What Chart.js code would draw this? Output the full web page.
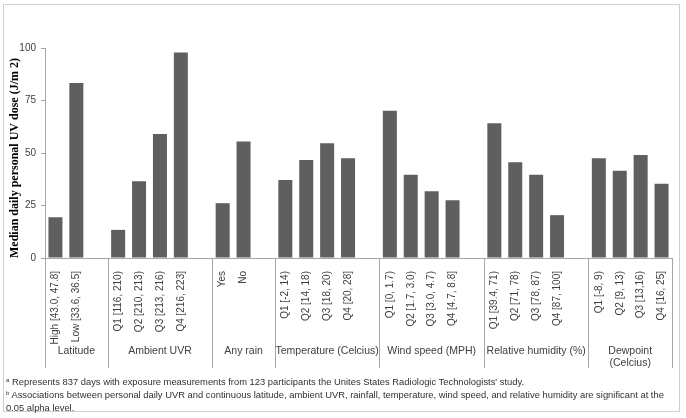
<!DOCTYPE html>
<html>
<head>
<meta charset="utf-8">
<script src="https://cdn.jsdelivr.net/npm/chart.js@4/dist/chart.umd.min.js"></script>
<style>
  body { margin: 0; background: #fff; }
  #wrap { position: relative; width: 686px; height: 418px; }
  #frame { position: absolute; left: 3px; top: 4px; width: 677px; height: 408px; border: 1px solid #cfcfcf; box-sizing: border-box; }
  canvas { position: absolute; left: 0; top: 0; }
  #notes { position: absolute; left: 6px; top: 375px; font: 9.4px "Liberation Sans", Arial, sans-serif; color: #303030; line-height: 13px; white-space: nowrap; }
  #notes sup { font-size: 6px; vertical-align: 3px; line-height: 0; }
</style>
</head>
<body>
<div id="wrap">
  <div id="frame"></div>
  <canvas id="chart" width="686" height="418"></canvas>
  <div id="notes">
    <sup>a</sup> Represents 837 days with exposure measurements from 123 participants the Unites States Radiologic Technologists' study.<br>
    <sup>b</sup> Associations between personal daily UVR and continuous latitude, ambient UVR, rainfall, temperature, wind speed, and relative humidity are significant at the<br>
    0.05 alpha level.
  </div>
</div>
<script>
// groups along the x axis (label drawn under each block)
const groupNames = ["Latitude", "Ambient UVR", "Any rain", "Temperature (Celcius)",
  "Wind speed (MPH)", "Relative humidity (%)", ["Dewpoint", "(Celcius)"]];

const latitudeLabels = ["High [43.0, 47.8]", "Low [33.6, 36.5]"];
const latitudeValues = [19.4, 83.3];

const ambientLabels = ["Q1 [116, 210)", "Q2 [210, 213)", "Q3 [213, 216)", "Q4 [216, 223]"];
const ambientValues = [13.4, 36.6, 59.0, 97.9];

const rainLabels = ["Yes", "No"];
const rainValues = [26.1, 55.5];

const temperatureLabels = ["Q1 [-2, 14)", "Q2 [14, 18)", "Q3 [18, 20)", "Q4 [20, 28]"];
const temperatureValues = [37.2, 46.7, 54.7, 47.5];

const windLabels = ["Q1 [0, 1.7)", "Q2 [1.7, 3.0)", "Q3 [3.0, 4.7)", "Q4 [4.7, 8.8]"];
const windValues = [70.1, 39.7, 31.8, 27.5];

const humidityLabels = ["Q1 [39.4, 71)", "Q2 [71, 78)", "Q3 [78, 87)", "Q4 [87, 100]"];
const humidityValues = [64.2, 45.6, 39.7, 20.4];

const dewpointLabels = ["Q1 [-8, 9)", "Q2 [9, 13)", "Q3 [13,16)", "Q4 [16, 25]"];
const dewpointValues = [47.5, 41.5, 49.0, 35.4];

const yTicks = [0, 25, 50, 75, 100];
const yTitle = "Median daily personal UV dose (J/m 2)";

// flatten into one category axis, with an empty slot after each group (Excel style)
const blocks = [
  [latitudeLabels, latitudeValues], [ambientLabels, ambientValues], [rainLabels, rainValues],
  [temperatureLabels, temperatureValues], [windLabels, windValues],
  [humidityLabels, humidityValues], [dewpointLabels, dewpointValues]
];
const labels = [];
const values = [];
const groupStarts = [];
blocks.forEach(([l, v], i) => {
  groupStarts.push(labels.length);
  l.forEach((t, j) => { labels.push(t); values.push(v[j]); });
  if (i < blocks.length - 1) { labels.push(""); values.push(null); }
});
groupStarts.push(labels.length);

const axisGray = "#a6a6a6";
const textGray = "#404040";

// separators + group names under the rotated tick labels, and the y title
const groupPlugin = {
  id: "groups",
  afterDraw(chart) {
    const x = chart.scales.x;
    const area = chart.chartArea;
    const ctx = chart.ctx;
    const slot = x.getPixelForValue(1) - x.getPixelForValue(0);
    const edge = (i) => i >= labels.length ? area.right : x.getPixelForValue(i) - slot / 2;
    ctx.save();
    ctx.strokeStyle = axisGray;
    ctx.lineWidth = 1;
    groupStarts.forEach((s) => {
      const px = Math.round(edge(s)) + 0.5;
      ctx.beginPath();
      ctx.moveTo(px, area.bottom);
      ctx.lineTo(px, 368);
      ctx.stroke();
    });
    ctx.fillStyle = textGray;
    ctx.font = "10.5px 'Liberation Sans', Arial, sans-serif";
    ctx.textAlign = "center";
    ctx.textBaseline = "middle";
    groupNames.forEach((name, i) => {
      const cx = (edge(groupStarts[i]) + edge(groupStarts[i + 1])) / 2;
      const lines = Array.isArray(name) ? name : [name];
      lines.forEach((ln, k) => ctx.fillText(ln, cx, 351 + k * 12));
    });
    // y axis title, a bit below the plot centre like the original
    ctx.fillStyle = "#000";
    ctx.font = "bold 12px 'Liberation Serif', 'Times New Roman', serif";
    ctx.translate(15, 158);
    ctx.rotate(-Math.PI / 2);
    ctx.fillText(yTitle, 0, 0);
    ctx.restore();
  }
};

new Chart(document.getElementById("chart"), {
  type: "bar",
  data: {
    labels: labels,
    datasets: [{
      data: values,
      backgroundColor: "#5f5f5f",
      borderWidth: 0,
      categoryPercentage: 1,
      barPercentage: 0.67
    }]
  },
  options: {
    responsive: false,
    animation: false,
    events: [],
    layout: { padding: { top: 48, right: 14, bottom: 0, left: 0 } },
    plugins: { legend: { display: false }, tooltip: { enabled: false } },
    scales: {
      x: {
        grid: { display: false },
        border: { color: axisGray },
        ticks: {
          autoSkip: false, maxRotation: 90, minRotation: 90, padding: 5,
          color: textGray, font: { family: "'Liberation Sans', Arial, sans-serif", size: 10 }
        },
        afterFit(scale) { scale.height = 160; }
      },
      y: {
        min: 0, max: 100,
        afterBuildTicks(scale) { scale.ticks = yTicks.map((v) => ({ value: v })); },
        grid: { drawOnChartArea: false, drawTicks: true, tickLength: 4, color: axisGray },
        border: { color: axisGray },
        ticks: {
          padding: 5, color: textGray,
          font: { family: "'Liberation Sans', Arial, sans-serif", size: 10 }
        },
        afterFit(scale) { scale.width = 45; }
      }
    }
  },
  plugins: [groupPlugin]
});
</script>
</body>
</html>
